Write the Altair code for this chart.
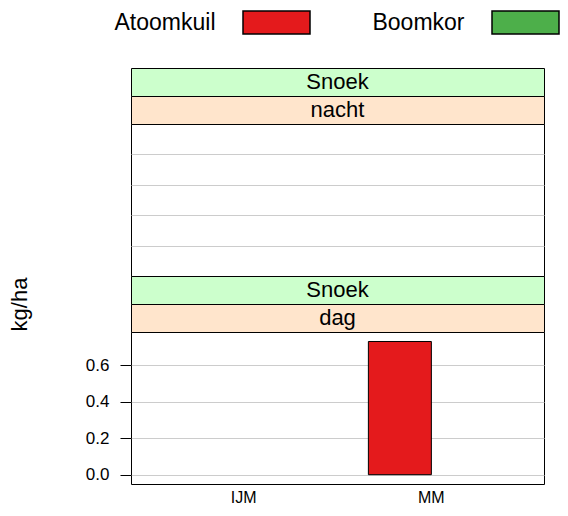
import altair as alt
import pandas as pd

FONT = "Liberation Sans"

# ---- data ----
locations = ["IJM", "MM"]
groups = ["Atoomkuil", "Boomkor"]
group_colors = ["#E41A1C", "#4DAF4A"]
species = "Snoek"
periods = ["nacht", "dag"]
# kg/ha per location (None = no value)
nacht_atoomkuil = [None, None]
nacht_boomkor = [None, None]
dag_atoomkuil = [None, 0.73]
dag_boomkor = [None, None]
y_ticks = [0.0, 0.2, 0.4, 0.6]


def make_df(atoom, boom):
    rows = []
    for loc, a, b in zip(locations, atoom, boom):
        rows.append({"location": loc, "group": groups[0], "kgha": a})
        rows.append({"location": loc, "group": groups[1], "kgha": b})
    return pd.DataFrame(rows)


nacht_df = make_df(nacht_atoomkuil, nacht_boomkor)
dag_df = make_df(dag_atoomkuil, dag_boomkor)

W = 413
SH = 28
PH = 152
STRIP_GREEN = "#CCFFCC"
STRIP_ORANGE = "#FFE5CC"

color = alt.Color("group:N", scale=alt.Scale(domain=groups, range=group_colors), legend=None)


def strip(label, fill):
    return alt.Chart(pd.DataFrame({"label": [label]})).mark_text(
        font=FONT, fontSize=22, color="black", baseline="middle", align="center"
    ).encode(text="label:N").properties(
        width=W, height=SH,
        view=alt.ViewBackground(fill=fill, stroke="black", strokeWidth=1),
    )


def panel(df, yscale, yaxis, xaxis):
    return alt.Chart(df).mark_bar(stroke="black", strokeWidth=1).encode(
        x=alt.X("location:N", scale=alt.Scale(domain=locations, paddingInner=0.329, paddingOuter=0.2645), axis=xaxis),
        xOffset=alt.XOffset("group:N", scale=alt.Scale(domain=groups, paddingInner=0, paddingOuter=0)),
        y=alt.Y("kgha:Q", scale=yscale, axis=yaxis),
        y2=alt.datum(0),
        color=color,
    ).properties(
        width=W, height=PH,
        view=alt.ViewBackground(fill="white", stroke="black", strokeWidth=1),
    )


top_panel = panel(
    nacht_df,
    alt.Scale(domain=[0, 5], nice=False, zero=False),
    alt.Axis(values=[1, 2, 3, 4], labels=False, ticks=False, domain=False, grid=True,
             gridColor="#cccccc", title=None),
    None,
)

bottom_panel = panel(
    dag_df,
    alt.Scale(domain=[-0.051, 0.782], nice=False, zero=False),
    alt.Axis(values=y_ticks, format=".1f", labelFont=FONT, labelFontSize=17, labelColor="black",
             tickSize=11, tickColor="black", labelPadding=11, domain=False, grid=True,
             gridColor="#cccccc", title="kg/ha", titleFont=FONT, titleFontSize=22,
             titleFontWeight="normal", titleColor="black", titleX=-111.5, titleY=-28,
             titleAngle=270, titleBaseline="middle", titleAlign="center"),
    alt.Axis(labelFont=FONT, labelFontSize=16, labelColor="black", ticks=False, domain=False,
             labelPadding=5, title=None, labelAngle=0),
)

# legend (labels before keys)
legend_df = pd.DataFrame({"lgroup": groups, "group": groups, "row": ["key", "key"]})
lbase = alt.Chart(legend_df).encode(
    x=alt.X("lgroup:N", scale=alt.Scale(type="point", domain=groups, range=[145.5, 394.5], padding=0), axis=None),
    y=alt.Y("row:N", scale=alt.Scale(paddingInner=0, paddingOuter=0), axis=None),
)
boxes = lbase.mark_rect(width=67, stroke="black", strokeWidth=1.5).encode(color=color)
labels = lbase.mark_text(align="right", dx=-61, fontSize=23, font=FONT, baseline="middle",
                         color="black").encode(text="group:N")
legend = (boxes + labels).properties(width=W, height=23)

spacer = alt.Chart(pd.DataFrame({"s": [0]})).mark_point(opacity=0).properties(width=W, height=34)

chart = alt.vconcat(
    legend,
    spacer,
    strip(species, STRIP_GREEN),
    strip(periods[0], STRIP_ORANGE),
    top_panel,
    strip(species, STRIP_GREEN),
    strip(periods[1], STRIP_ORANGE),
    bottom_panel,
    spacing=0,
    bounds="flush",
).resolve_scale(x="independent", y="independent").properties(
    padding={"left": 0, "top": 2, "right": 0, "bottom": 0}
).configure_view(strokeWidth=0)

chart.save("out.html", embed_options={"renderer": "svg", "actions": False})
